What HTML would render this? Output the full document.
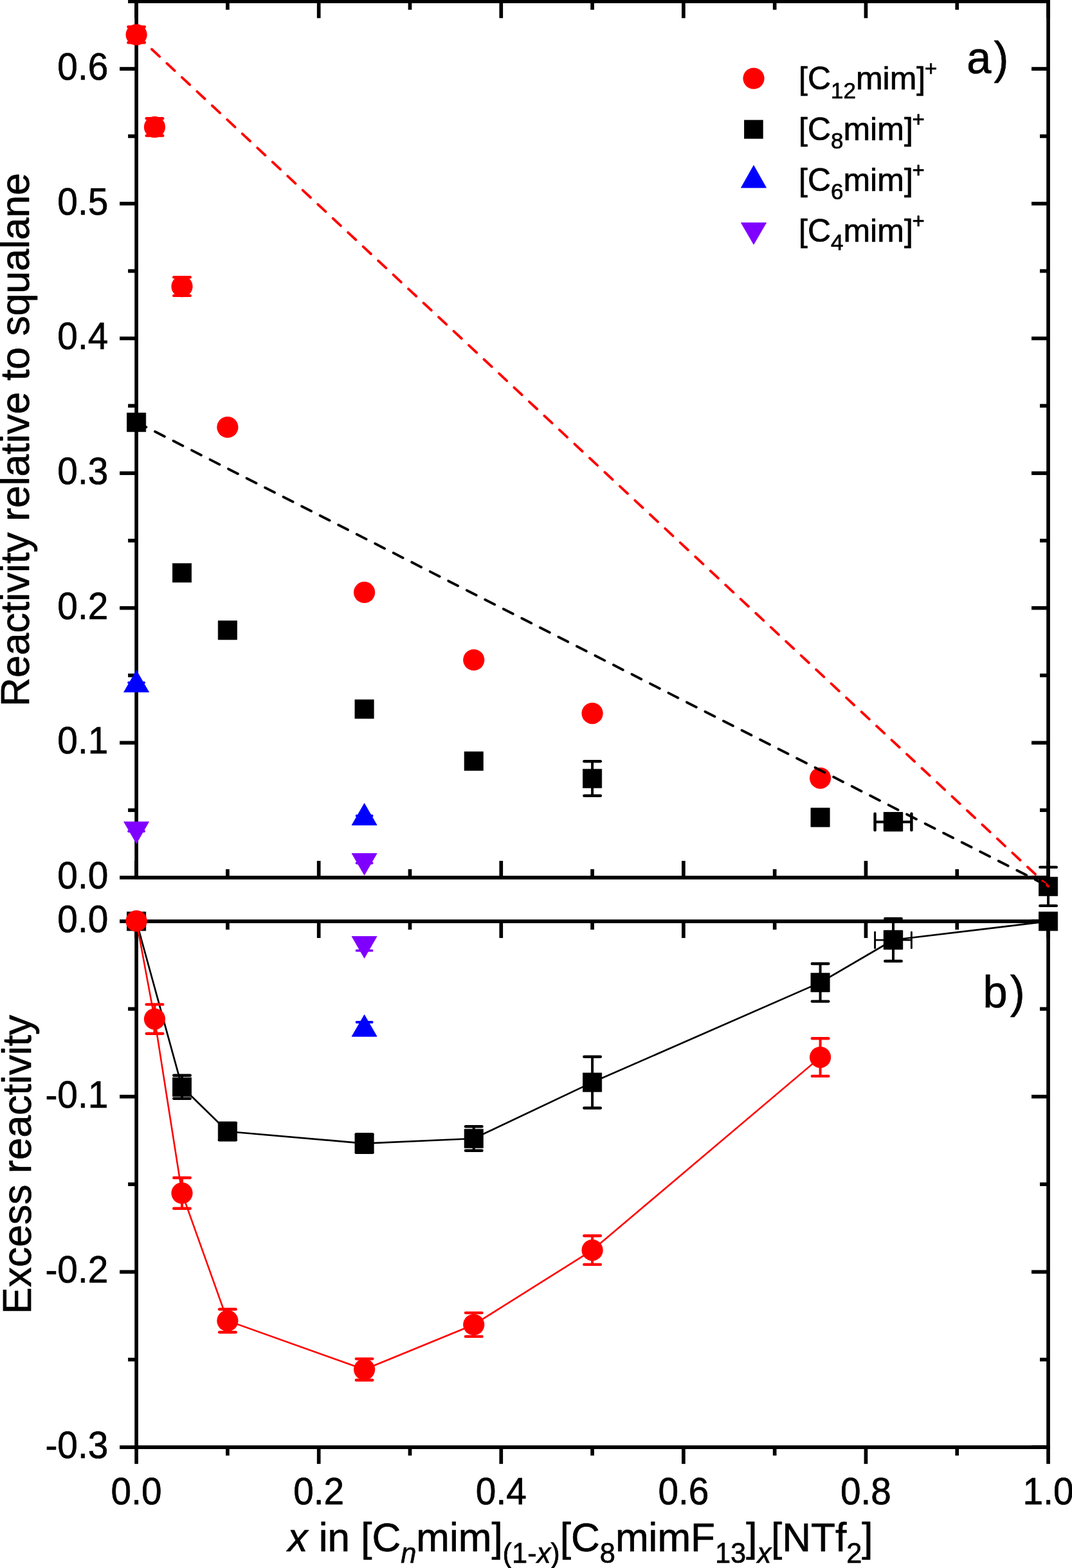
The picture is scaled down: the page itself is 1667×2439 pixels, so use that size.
<!DOCTYPE html>
<html><head><meta charset="utf-8"><title>Reactivity plot</title>
<style>html,body{margin:0;padding:0;background:#fff;overflow:hidden;}svg{display:block;}
text{font-family:'Liberation Sans', Arial, Helvetica, sans-serif;fill:#000;stroke:#000;stroke-width:0.7px;stroke-linejoin:round;}</style></head>
<body><svg width="1667" height="2439" viewBox="0 0 1667 2439">
<rect width="1667" height="2439" fill="#fff"/>
<line x1="212.10" y1="-0.64" x2="212.10" y2="1367.90" stroke="#000000" stroke-width="5.7" stroke-linecap="butt"/>
<line x1="1630.05" y1="-0.64" x2="1630.05" y2="1367.90" stroke="#000000" stroke-width="5.7" stroke-linecap="butt"/>
<line x1="209.25" y1="2.21" x2="1632.90" y2="2.21" stroke="#000000" stroke-width="5.7" stroke-linecap="butt"/>
<line x1="209.25" y1="1365.05" x2="1632.90" y2="1365.05" stroke="#000000" stroke-width="5.7" stroke-linecap="butt"/>
<line x1="186.10" y1="1365.05" x2="212.10" y2="1365.05" stroke="#000000" stroke-width="5.7" stroke-linecap="butt"/>
<line x1="1604.05" y1="1365.05" x2="1630.05" y2="1365.05" stroke="#000000" stroke-width="5.7" stroke-linecap="butt"/>
<line x1="199.10" y1="1260.22" x2="212.10" y2="1260.22" stroke="#000000" stroke-width="5.7" stroke-linecap="butt"/>
<line x1="1617.05" y1="1260.22" x2="1630.05" y2="1260.22" stroke="#000000" stroke-width="5.7" stroke-linecap="butt"/>
<line x1="186.10" y1="1155.38" x2="212.10" y2="1155.38" stroke="#000000" stroke-width="5.7" stroke-linecap="butt"/>
<line x1="1604.05" y1="1155.38" x2="1630.05" y2="1155.38" stroke="#000000" stroke-width="5.7" stroke-linecap="butt"/>
<line x1="199.10" y1="1050.55" x2="212.10" y2="1050.55" stroke="#000000" stroke-width="5.7" stroke-linecap="butt"/>
<line x1="1617.05" y1="1050.55" x2="1630.05" y2="1050.55" stroke="#000000" stroke-width="5.7" stroke-linecap="butt"/>
<line x1="186.10" y1="945.72" x2="212.10" y2="945.72" stroke="#000000" stroke-width="5.7" stroke-linecap="butt"/>
<line x1="1604.05" y1="945.72" x2="1630.05" y2="945.72" stroke="#000000" stroke-width="5.7" stroke-linecap="butt"/>
<line x1="199.10" y1="840.88" x2="212.10" y2="840.88" stroke="#000000" stroke-width="5.7" stroke-linecap="butt"/>
<line x1="1617.05" y1="840.88" x2="1630.05" y2="840.88" stroke="#000000" stroke-width="5.7" stroke-linecap="butt"/>
<line x1="186.10" y1="736.05" x2="212.10" y2="736.05" stroke="#000000" stroke-width="5.7" stroke-linecap="butt"/>
<line x1="1604.05" y1="736.05" x2="1630.05" y2="736.05" stroke="#000000" stroke-width="5.7" stroke-linecap="butt"/>
<line x1="199.10" y1="631.22" x2="212.10" y2="631.22" stroke="#000000" stroke-width="5.7" stroke-linecap="butt"/>
<line x1="1617.05" y1="631.22" x2="1630.05" y2="631.22" stroke="#000000" stroke-width="5.7" stroke-linecap="butt"/>
<line x1="186.10" y1="526.38" x2="212.10" y2="526.38" stroke="#000000" stroke-width="5.7" stroke-linecap="butt"/>
<line x1="1604.05" y1="526.38" x2="1630.05" y2="526.38" stroke="#000000" stroke-width="5.7" stroke-linecap="butt"/>
<line x1="199.10" y1="421.55" x2="212.10" y2="421.55" stroke="#000000" stroke-width="5.7" stroke-linecap="butt"/>
<line x1="1617.05" y1="421.55" x2="1630.05" y2="421.55" stroke="#000000" stroke-width="5.7" stroke-linecap="butt"/>
<line x1="186.10" y1="316.71" x2="212.10" y2="316.71" stroke="#000000" stroke-width="5.7" stroke-linecap="butt"/>
<line x1="1604.05" y1="316.71" x2="1630.05" y2="316.71" stroke="#000000" stroke-width="5.7" stroke-linecap="butt"/>
<line x1="199.10" y1="211.88" x2="212.10" y2="211.88" stroke="#000000" stroke-width="5.7" stroke-linecap="butt"/>
<line x1="1617.05" y1="211.88" x2="1630.05" y2="211.88" stroke="#000000" stroke-width="5.7" stroke-linecap="butt"/>
<line x1="186.10" y1="107.05" x2="212.10" y2="107.05" stroke="#000000" stroke-width="5.7" stroke-linecap="butt"/>
<line x1="1604.05" y1="107.05" x2="1630.05" y2="107.05" stroke="#000000" stroke-width="5.7" stroke-linecap="butt"/>
<line x1="199.10" y1="2.21" x2="212.10" y2="2.21" stroke="#000000" stroke-width="5.7" stroke-linecap="butt"/>
<line x1="1617.05" y1="2.21" x2="1630.05" y2="2.21" stroke="#000000" stroke-width="5.7" stroke-linecap="butt"/>
<line x1="212.10" y1="2.21" x2="212.10" y2="28.21" stroke="#000000" stroke-width="5.7" stroke-linecap="butt"/>
<line x1="212.10" y1="1365.05" x2="212.10" y2="1339.05" stroke="#000000" stroke-width="5.7" stroke-linecap="butt"/>
<line x1="353.89" y1="2.21" x2="353.89" y2="15.21" stroke="#000000" stroke-width="5.7" stroke-linecap="butt"/>
<line x1="353.89" y1="1365.05" x2="353.89" y2="1352.05" stroke="#000000" stroke-width="5.7" stroke-linecap="butt"/>
<line x1="495.69" y1="2.21" x2="495.69" y2="28.21" stroke="#000000" stroke-width="5.7" stroke-linecap="butt"/>
<line x1="495.69" y1="1365.05" x2="495.69" y2="1339.05" stroke="#000000" stroke-width="5.7" stroke-linecap="butt"/>
<line x1="637.49" y1="2.21" x2="637.49" y2="15.21" stroke="#000000" stroke-width="5.7" stroke-linecap="butt"/>
<line x1="637.49" y1="1365.05" x2="637.49" y2="1352.05" stroke="#000000" stroke-width="5.7" stroke-linecap="butt"/>
<line x1="779.28" y1="2.21" x2="779.28" y2="28.21" stroke="#000000" stroke-width="5.7" stroke-linecap="butt"/>
<line x1="779.28" y1="1365.05" x2="779.28" y2="1339.05" stroke="#000000" stroke-width="5.7" stroke-linecap="butt"/>
<line x1="921.08" y1="2.21" x2="921.08" y2="15.21" stroke="#000000" stroke-width="5.7" stroke-linecap="butt"/>
<line x1="921.08" y1="1365.05" x2="921.08" y2="1352.05" stroke="#000000" stroke-width="5.7" stroke-linecap="butt"/>
<line x1="1062.87" y1="2.21" x2="1062.87" y2="28.21" stroke="#000000" stroke-width="5.7" stroke-linecap="butt"/>
<line x1="1062.87" y1="1365.05" x2="1062.87" y2="1339.05" stroke="#000000" stroke-width="5.7" stroke-linecap="butt"/>
<line x1="1204.67" y1="2.21" x2="1204.67" y2="15.21" stroke="#000000" stroke-width="5.7" stroke-linecap="butt"/>
<line x1="1204.67" y1="1365.05" x2="1204.67" y2="1352.05" stroke="#000000" stroke-width="5.7" stroke-linecap="butt"/>
<line x1="1346.46" y1="2.21" x2="1346.46" y2="28.21" stroke="#000000" stroke-width="5.7" stroke-linecap="butt"/>
<line x1="1346.46" y1="1365.05" x2="1346.46" y2="1339.05" stroke="#000000" stroke-width="5.7" stroke-linecap="butt"/>
<line x1="1488.25" y1="2.21" x2="1488.25" y2="15.21" stroke="#000000" stroke-width="5.7" stroke-linecap="butt"/>
<line x1="1488.25" y1="1365.05" x2="1488.25" y2="1352.05" stroke="#000000" stroke-width="5.7" stroke-linecap="butt"/>
<line x1="1630.05" y1="2.21" x2="1630.05" y2="28.21" stroke="#000000" stroke-width="5.7" stroke-linecap="butt"/>
<line x1="1630.05" y1="1365.05" x2="1630.05" y2="1339.05" stroke="#000000" stroke-width="5.7" stroke-linecap="butt"/>
<line x1="212.10" y1="1430.20" x2="212.10" y2="2253.97" stroke="#000000" stroke-width="5.7" stroke-linecap="butt"/>
<line x1="1630.05" y1="1430.20" x2="1630.05" y2="2253.97" stroke="#000000" stroke-width="5.7" stroke-linecap="butt"/>
<line x1="209.25" y1="1433.05" x2="1632.90" y2="1433.05" stroke="#000000" stroke-width="5.7" stroke-linecap="butt"/>
<line x1="209.25" y1="2251.12" x2="1632.90" y2="2251.12" stroke="#000000" stroke-width="5.7" stroke-linecap="butt"/>
<line x1="186.10" y1="1433.05" x2="212.10" y2="1433.05" stroke="#000000" stroke-width="5.7" stroke-linecap="butt"/>
<line x1="1604.05" y1="1433.05" x2="1630.05" y2="1433.05" stroke="#000000" stroke-width="5.7" stroke-linecap="butt"/>
<line x1="199.10" y1="1569.39" x2="212.10" y2="1569.39" stroke="#000000" stroke-width="5.7" stroke-linecap="butt"/>
<line x1="1617.05" y1="1569.39" x2="1630.05" y2="1569.39" stroke="#000000" stroke-width="5.7" stroke-linecap="butt"/>
<line x1="186.10" y1="1705.74" x2="212.10" y2="1705.74" stroke="#000000" stroke-width="5.7" stroke-linecap="butt"/>
<line x1="1604.05" y1="1705.74" x2="1630.05" y2="1705.74" stroke="#000000" stroke-width="5.7" stroke-linecap="butt"/>
<line x1="199.10" y1="1842.09" x2="212.10" y2="1842.09" stroke="#000000" stroke-width="5.7" stroke-linecap="butt"/>
<line x1="1617.05" y1="1842.09" x2="1630.05" y2="1842.09" stroke="#000000" stroke-width="5.7" stroke-linecap="butt"/>
<line x1="186.10" y1="1978.43" x2="212.10" y2="1978.43" stroke="#000000" stroke-width="5.7" stroke-linecap="butt"/>
<line x1="1604.05" y1="1978.43" x2="1630.05" y2="1978.43" stroke="#000000" stroke-width="5.7" stroke-linecap="butt"/>
<line x1="199.10" y1="2114.78" x2="212.10" y2="2114.78" stroke="#000000" stroke-width="5.7" stroke-linecap="butt"/>
<line x1="1617.05" y1="2114.78" x2="1630.05" y2="2114.78" stroke="#000000" stroke-width="5.7" stroke-linecap="butt"/>
<line x1="186.10" y1="2251.12" x2="212.10" y2="2251.12" stroke="#000000" stroke-width="5.7" stroke-linecap="butt"/>
<line x1="1604.05" y1="2251.12" x2="1630.05" y2="2251.12" stroke="#000000" stroke-width="5.7" stroke-linecap="butt"/>
<line x1="212.10" y1="1433.05" x2="212.10" y2="1459.05" stroke="#000000" stroke-width="5.7" stroke-linecap="butt"/>
<line x1="212.10" y1="2251.12" x2="212.10" y2="2277.12" stroke="#000000" stroke-width="5.7" stroke-linecap="butt"/>
<line x1="353.89" y1="1433.05" x2="353.89" y2="1446.05" stroke="#000000" stroke-width="5.7" stroke-linecap="butt"/>
<line x1="353.89" y1="2251.12" x2="353.89" y2="2264.12" stroke="#000000" stroke-width="5.7" stroke-linecap="butt"/>
<line x1="495.69" y1="1433.05" x2="495.69" y2="1459.05" stroke="#000000" stroke-width="5.7" stroke-linecap="butt"/>
<line x1="495.69" y1="2251.12" x2="495.69" y2="2277.12" stroke="#000000" stroke-width="5.7" stroke-linecap="butt"/>
<line x1="637.49" y1="1433.05" x2="637.49" y2="1446.05" stroke="#000000" stroke-width="5.7" stroke-linecap="butt"/>
<line x1="637.49" y1="2251.12" x2="637.49" y2="2264.12" stroke="#000000" stroke-width="5.7" stroke-linecap="butt"/>
<line x1="779.28" y1="1433.05" x2="779.28" y2="1459.05" stroke="#000000" stroke-width="5.7" stroke-linecap="butt"/>
<line x1="779.28" y1="2251.12" x2="779.28" y2="2277.12" stroke="#000000" stroke-width="5.7" stroke-linecap="butt"/>
<line x1="921.08" y1="1433.05" x2="921.08" y2="1446.05" stroke="#000000" stroke-width="5.7" stroke-linecap="butt"/>
<line x1="921.08" y1="2251.12" x2="921.08" y2="2264.12" stroke="#000000" stroke-width="5.7" stroke-linecap="butt"/>
<line x1="1062.87" y1="1433.05" x2="1062.87" y2="1459.05" stroke="#000000" stroke-width="5.7" stroke-linecap="butt"/>
<line x1="1062.87" y1="2251.12" x2="1062.87" y2="2277.12" stroke="#000000" stroke-width="5.7" stroke-linecap="butt"/>
<line x1="1204.67" y1="1433.05" x2="1204.67" y2="1446.05" stroke="#000000" stroke-width="5.7" stroke-linecap="butt"/>
<line x1="1204.67" y1="2251.12" x2="1204.67" y2="2264.12" stroke="#000000" stroke-width="5.7" stroke-linecap="butt"/>
<line x1="1346.46" y1="1433.05" x2="1346.46" y2="1459.05" stroke="#000000" stroke-width="5.7" stroke-linecap="butt"/>
<line x1="1346.46" y1="2251.12" x2="1346.46" y2="2277.12" stroke="#000000" stroke-width="5.7" stroke-linecap="butt"/>
<line x1="1488.25" y1="1433.05" x2="1488.25" y2="1446.05" stroke="#000000" stroke-width="5.7" stroke-linecap="butt"/>
<line x1="1488.25" y1="2251.12" x2="1488.25" y2="2264.12" stroke="#000000" stroke-width="5.7" stroke-linecap="butt"/>
<line x1="1630.05" y1="1433.05" x2="1630.05" y2="1459.05" stroke="#000000" stroke-width="5.7" stroke-linecap="butt"/>
<line x1="1630.05" y1="2251.12" x2="1630.05" y2="2277.12" stroke="#000000" stroke-width="5.7" stroke-linecap="butt"/>
<text transform="translate(168.30,1381.95) scale(1,1.035)" font-size="56.8" text-anchor="end">0.0</text>
<text transform="translate(168.30,1172.28) scale(1,1.035)" font-size="56.8" text-anchor="end">0.1</text>
<text transform="translate(168.30,962.62) scale(1,1.035)" font-size="56.8" text-anchor="end">0.2</text>
<text transform="translate(168.30,752.95) scale(1,1.035)" font-size="56.8" text-anchor="end">0.3</text>
<text transform="translate(168.30,543.28) scale(1,1.035)" font-size="56.8" text-anchor="end">0.4</text>
<text transform="translate(168.30,333.61) scale(1,1.035)" font-size="56.8" text-anchor="end">0.5</text>
<text transform="translate(168.30,123.95) scale(1,1.035)" font-size="56.8" text-anchor="end">0.6</text>
<text transform="translate(168.30,1449.95) scale(1,1.035)" font-size="56.8" text-anchor="end">0.0</text>
<text transform="translate(168.30,1722.64) scale(1,1.035)" font-size="56.8" text-anchor="end">-0.1</text>
<text transform="translate(168.30,1995.33) scale(1,1.035)" font-size="56.8" text-anchor="end">-0.2</text>
<text transform="translate(168.30,2268.02) scale(1,1.035)" font-size="56.8" text-anchor="end">-0.3</text>
<text transform="translate(212.10,2339.80) scale(1,1.035)" font-size="56.8" text-anchor="middle">0.0</text>
<text transform="translate(495.69,2339.80) scale(1,1.035)" font-size="56.8" text-anchor="middle">0.2</text>
<text transform="translate(779.28,2339.80) scale(1,1.035)" font-size="56.8" text-anchor="middle">0.4</text>
<text transform="translate(1062.87,2339.80) scale(1,1.035)" font-size="56.8" text-anchor="middle">0.6</text>
<text transform="translate(1346.46,2339.80) scale(1,1.035)" font-size="56.8" text-anchor="middle">0.8</text>
<text transform="translate(1630.05,2339.80) scale(1,1.035)" font-size="56.8" text-anchor="middle">1.0</text>
<text transform="translate(45.40,1099.03) rotate(-90) scale(1,1.01)" font-size="62.5" text-anchor="start">Reactivity relative to squalane</text>
<text transform="translate(48.10,2043.92) rotate(-90) scale(1,1.01)" font-size="62.5" text-anchor="start">Excess reactivity</text>
<text transform="translate(447.50,2412.80) scale(1,1.02)" font-size="62.0" text-anchor="start"><tspan font-style="italic">x</tspan> in [C<tspan font-size="43.4" dy="18" font-style="italic">n</tspan><tspan dy="-18">mim]</tspan><tspan font-size="43.4" dy="18">(1-<tspan font-style="italic">x</tspan>)</tspan><tspan dy="-18">[C</tspan><tspan font-size="43.4" dy="18">8</tspan><tspan dy="-18">mimF</tspan><tspan font-size="43.4" dy="18">13</tspan><tspan dy="-18">]</tspan><tspan font-size="43.4" dy="18" font-style="italic">x</tspan><tspan dy="-18">[NTf</tspan><tspan font-size="43.4" dy="18">2</tspan><tspan dy="-18">]</tspan></text>
<line x1="212.10" y1="41.75" x2="212.10" y2="66.25" stroke="#ff0000" stroke-width="4.0" stroke-linecap="butt"/>
<line x1="199.35" y1="41.75" x2="224.85" y2="41.75" stroke="#ff0000" stroke-width="4.4" stroke-linecap="round"/>
<line x1="199.35" y1="66.25" x2="224.85" y2="66.25" stroke="#ff0000" stroke-width="4.4" stroke-linecap="round"/>
<circle cx="212.10" cy="54.00" r="16.6" fill="#ff0000"/>
<line x1="240.46" y1="184.25" x2="240.46" y2="210.95" stroke="#ff0000" stroke-width="4.0" stroke-linecap="butt"/>
<line x1="227.71" y1="184.25" x2="253.21" y2="184.25" stroke="#ff0000" stroke-width="4.4" stroke-linecap="round"/>
<line x1="227.71" y1="210.95" x2="253.21" y2="210.95" stroke="#ff0000" stroke-width="4.4" stroke-linecap="round"/>
<circle cx="240.46" cy="197.60" r="16.6" fill="#ff0000"/>
<line x1="283.00" y1="431.30" x2="283.00" y2="459.90" stroke="#ff0000" stroke-width="4.0" stroke-linecap="butt"/>
<line x1="270.25" y1="431.30" x2="295.75" y2="431.30" stroke="#ff0000" stroke-width="4.4" stroke-linecap="round"/>
<line x1="270.25" y1="459.90" x2="295.75" y2="459.90" stroke="#ff0000" stroke-width="4.4" stroke-linecap="round"/>
<circle cx="283.00" cy="445.60" r="16.6" fill="#ff0000"/>
<circle cx="353.89" cy="664.50" r="16.6" fill="#ff0000"/>
<circle cx="566.59" cy="921.40" r="16.6" fill="#ff0000"/>
<circle cx="736.74" cy="1026.50" r="16.6" fill="#ff0000"/>
<circle cx="921.08" cy="1109.60" r="16.6" fill="#ff0000"/>
<circle cx="1275.56" cy="1210.30" r="16.6" fill="#ff0000"/>
<rect x="197.40" y="642.20" width="29.4" height="29.4" fill="#000000" stroke="#000000" stroke-width="0.6" stroke-linejoin="round"/>
<rect x="268.30" y="876.40" width="29.4" height="29.4" fill="#000000" stroke="#000000" stroke-width="0.6" stroke-linejoin="round"/>
<rect x="339.19" y="965.60" width="29.4" height="29.4" fill="#000000" stroke="#000000" stroke-width="0.6" stroke-linejoin="round"/>
<rect x="551.89" y="1088.30" width="29.4" height="29.4" fill="#000000" stroke="#000000" stroke-width="0.6" stroke-linejoin="round"/>
<rect x="722.04" y="1169.20" width="29.4" height="29.4" fill="#000000" stroke="#000000" stroke-width="0.6" stroke-linejoin="round"/>
<line x1="921.08" y1="1184.20" x2="921.08" y2="1237.80" stroke="#000000" stroke-width="4.0" stroke-linecap="butt"/>
<line x1="908.33" y1="1184.20" x2="933.83" y2="1184.20" stroke="#000000" stroke-width="4.4" stroke-linecap="round"/>
<line x1="908.33" y1="1237.80" x2="933.83" y2="1237.80" stroke="#000000" stroke-width="4.4" stroke-linecap="round"/>
<rect x="906.38" y="1196.30" width="29.4" height="29.4" fill="#000000" stroke="#000000" stroke-width="0.6" stroke-linejoin="round"/>
<rect x="1260.86" y="1256.80" width="29.4" height="29.4" fill="#000000" stroke="#000000" stroke-width="0.6" stroke-linejoin="round"/>
<rect x="1374.30" y="1263.50" width="29.4" height="29.4" fill="#000000" stroke="#000000" stroke-width="0.6" stroke-linejoin="round"/>
<line x1="1630.05" y1="1348.90" x2="1630.05" y2="1408.90" stroke="#000000" stroke-width="4.0" stroke-linecap="butt"/>
<line x1="1617.30" y1="1348.90" x2="1642.80" y2="1348.90" stroke="#000000" stroke-width="4.4" stroke-linecap="round"/>
<line x1="1617.30" y1="1408.90" x2="1642.80" y2="1408.90" stroke="#000000" stroke-width="4.4" stroke-linecap="round"/>
<rect x="1615.35" y="1364.20" width="29.4" height="29.4" fill="#000000" stroke="#000000" stroke-width="0.6" stroke-linejoin="round"/>
<line x1="1360.60" y1="1278.50" x2="1417.40" y2="1278.50" stroke="#000000" stroke-width="4.0" stroke-linecap="butt"/>
<line x1="1360.60" y1="1265.75" x2="1360.60" y2="1291.25" stroke="#000000" stroke-width="4.5" stroke-linecap="round"/>
<line x1="1417.40" y1="1265.75" x2="1417.40" y2="1291.25" stroke="#000000" stroke-width="4.5" stroke-linecap="round"/>
<rect x="1374.30" y="1263.50" width="29.4" height="29.4" fill="#000000" stroke="#000000" stroke-width="0.6" stroke-linejoin="round"/>
<line x1="200.10" y1="1061.80" x2="224.10" y2="1061.80" stroke="#0000ff" stroke-width="3.8" stroke-linecap="round"/>
<polygon points="212.10,1042.80 231.60,1076.60 192.60,1076.60" fill="#0000ff" stroke="#0000ff" stroke-width="0.8" stroke-linejoin="round"/>
<line x1="554.59" y1="1269.00" x2="578.59" y2="1269.00" stroke="#0000ff" stroke-width="3.8" stroke-linecap="round"/>
<polygon points="566.59,1249.60 586.09,1283.40 547.09,1283.40" fill="#0000ff" stroke="#0000ff" stroke-width="0.8" stroke-linejoin="round"/>
<line x1="200.10" y1="1293.00" x2="224.10" y2="1293.00" stroke="#8000ff" stroke-width="3.8" stroke-linecap="round"/>
<polygon points="192.60,1278.20 231.60,1278.20 212.10,1312.00" fill="#8000ff" stroke="#8000ff" stroke-width="0.8" stroke-linejoin="round"/>
<line x1="554.59" y1="1342.50" x2="578.59" y2="1342.50" stroke="#8000ff" stroke-width="3.8" stroke-linecap="round"/>
<polygon points="547.09,1327.50 586.09,1327.50 566.59,1361.30" fill="#8000ff" stroke="#8000ff" stroke-width="0.8" stroke-linejoin="round"/>
<line x1="212.10" y1="54.30" x2="1630.05" y2="1378.60" stroke="#ff0000" stroke-width="3.9" stroke-linecap="round" stroke-dasharray="16.7 15.43" stroke-dashoffset="-0.45"/>
<line x1="212.10" y1="656.60" x2="1630.05" y2="1378.60" stroke="#000000" stroke-width="3.9" stroke-linecap="round" stroke-dasharray="16.7 15.3" stroke-dashoffset="-0.45"/>
<polyline points="212.10,1433.05 283.00,1690.80 353.89,1760.00 566.59,1778.60 736.74,1771.00 921.08,1683.60 1275.56,1528.30 1389.00,1462.00 1630.05,1433.05" fill="none" stroke="#000000" stroke-width="2.7" stroke-linejoin="round"/>
<rect x="197.40" y="1418.35" width="29.4" height="29.4" fill="#000000" stroke="#000000" stroke-width="0.6" stroke-linejoin="round"/>
<line x1="283.00" y1="1672.80" x2="283.00" y2="1708.80" stroke="#000000" stroke-width="4.0" stroke-linecap="butt"/>
<line x1="270.25" y1="1672.80" x2="295.75" y2="1672.80" stroke="#000000" stroke-width="4.4" stroke-linecap="round"/>
<line x1="270.25" y1="1708.80" x2="295.75" y2="1708.80" stroke="#000000" stroke-width="4.4" stroke-linecap="round"/>
<rect x="268.30" y="1676.10" width="29.4" height="29.4" fill="#000000" stroke="#000000" stroke-width="0.6" stroke-linejoin="round"/>
<line x1="353.89" y1="1746.70" x2="353.89" y2="1773.30" stroke="#000000" stroke-width="4.0" stroke-linecap="butt"/>
<line x1="341.14" y1="1746.70" x2="366.64" y2="1746.70" stroke="#000000" stroke-width="4.4" stroke-linecap="round"/>
<line x1="341.14" y1="1773.30" x2="366.64" y2="1773.30" stroke="#000000" stroke-width="4.4" stroke-linecap="round"/>
<rect x="339.19" y="1745.30" width="29.4" height="29.4" fill="#000000" stroke="#000000" stroke-width="0.6" stroke-linejoin="round"/>
<line x1="566.59" y1="1764.30" x2="566.59" y2="1792.90" stroke="#000000" stroke-width="4.0" stroke-linecap="butt"/>
<line x1="553.84" y1="1764.30" x2="579.34" y2="1764.30" stroke="#000000" stroke-width="4.4" stroke-linecap="round"/>
<line x1="553.84" y1="1792.90" x2="579.34" y2="1792.90" stroke="#000000" stroke-width="4.4" stroke-linecap="round"/>
<rect x="551.89" y="1763.90" width="29.4" height="29.4" fill="#000000" stroke="#000000" stroke-width="0.6" stroke-linejoin="round"/>
<line x1="736.74" y1="1752.30" x2="736.74" y2="1789.70" stroke="#000000" stroke-width="4.0" stroke-linecap="butt"/>
<line x1="723.99" y1="1752.30" x2="749.49" y2="1752.30" stroke="#000000" stroke-width="4.4" stroke-linecap="round"/>
<line x1="723.99" y1="1789.70" x2="749.49" y2="1789.70" stroke="#000000" stroke-width="4.4" stroke-linecap="round"/>
<rect x="722.04" y="1756.30" width="29.4" height="29.4" fill="#000000" stroke="#000000" stroke-width="0.6" stroke-linejoin="round"/>
<line x1="921.08" y1="1643.70" x2="921.08" y2="1723.50" stroke="#000000" stroke-width="4.0" stroke-linecap="butt"/>
<line x1="908.33" y1="1643.70" x2="933.83" y2="1643.70" stroke="#000000" stroke-width="4.4" stroke-linecap="round"/>
<line x1="908.33" y1="1723.50" x2="933.83" y2="1723.50" stroke="#000000" stroke-width="4.4" stroke-linecap="round"/>
<rect x="906.38" y="1668.90" width="29.4" height="29.4" fill="#000000" stroke="#000000" stroke-width="0.6" stroke-linejoin="round"/>
<line x1="1275.56" y1="1499.00" x2="1275.56" y2="1557.60" stroke="#000000" stroke-width="4.0" stroke-linecap="butt"/>
<line x1="1262.81" y1="1499.00" x2="1288.31" y2="1499.00" stroke="#000000" stroke-width="4.4" stroke-linecap="round"/>
<line x1="1262.81" y1="1557.60" x2="1288.31" y2="1557.60" stroke="#000000" stroke-width="4.4" stroke-linecap="round"/>
<rect x="1260.86" y="1513.60" width="29.4" height="29.4" fill="#000000" stroke="#000000" stroke-width="0.6" stroke-linejoin="round"/>
<line x1="1389.00" y1="1429.00" x2="1389.00" y2="1495.00" stroke="#000000" stroke-width="4.0" stroke-linecap="butt"/>
<line x1="1376.25" y1="1429.00" x2="1401.75" y2="1429.00" stroke="#000000" stroke-width="4.4" stroke-linecap="round"/>
<line x1="1376.25" y1="1495.00" x2="1401.75" y2="1495.00" stroke="#000000" stroke-width="4.4" stroke-linecap="round"/>
<rect x="1374.30" y="1447.30" width="29.4" height="29.4" fill="#000000" stroke="#000000" stroke-width="0.6" stroke-linejoin="round"/>
<rect x="1615.35" y="1418.35" width="29.4" height="29.4" fill="#000000" stroke="#000000" stroke-width="0.6" stroke-linejoin="round"/>
<line x1="1360.60" y1="1462.30" x2="1417.40" y2="1462.30" stroke="#000000" stroke-width="2.6" stroke-linecap="butt"/>
<line x1="1360.60" y1="1449.90" x2="1360.60" y2="1474.70" stroke="#000000" stroke-width="2.9" stroke-linecap="round"/>
<line x1="1417.40" y1="1449.90" x2="1417.40" y2="1474.70" stroke="#000000" stroke-width="2.9" stroke-linecap="round"/>
<rect x="1374.30" y="1447.30" width="29.4" height="29.4" fill="#000000" stroke="#000000" stroke-width="0.6" stroke-linejoin="round"/>
<polyline points="212.10,1432.60 240.46,1585.10 283.00,1855.90 353.89,2054.40 566.59,2130.20 736.74,2060.50 921.08,1944.60 1275.56,1644.60" fill="none" stroke="#ff0000" stroke-width="2.6" stroke-linejoin="round"/>
<circle cx="212.10" cy="1432.60" r="16.6" fill="#ff0000"/>
<line x1="240.46" y1="1562.40" x2="240.46" y2="1607.80" stroke="#ff0000" stroke-width="4.0" stroke-linecap="butt"/>
<line x1="227.71" y1="1562.40" x2="253.21" y2="1562.40" stroke="#ff0000" stroke-width="4.4" stroke-linecap="round"/>
<line x1="227.71" y1="1607.80" x2="253.21" y2="1607.80" stroke="#ff0000" stroke-width="4.4" stroke-linecap="round"/>
<circle cx="240.46" cy="1585.10" r="16.6" fill="#ff0000"/>
<line x1="283.00" y1="1832.00" x2="283.00" y2="1879.80" stroke="#ff0000" stroke-width="4.0" stroke-linecap="butt"/>
<line x1="270.25" y1="1832.00" x2="295.75" y2="1832.00" stroke="#ff0000" stroke-width="4.4" stroke-linecap="round"/>
<line x1="270.25" y1="1879.80" x2="295.75" y2="1879.80" stroke="#ff0000" stroke-width="4.4" stroke-linecap="round"/>
<circle cx="283.00" cy="1855.90" r="16.6" fill="#ff0000"/>
<line x1="353.89" y1="2036.50" x2="353.89" y2="2072.30" stroke="#ff0000" stroke-width="4.0" stroke-linecap="butt"/>
<line x1="341.14" y1="2036.50" x2="366.64" y2="2036.50" stroke="#ff0000" stroke-width="4.4" stroke-linecap="round"/>
<line x1="341.14" y1="2072.30" x2="366.64" y2="2072.30" stroke="#ff0000" stroke-width="4.4" stroke-linecap="round"/>
<circle cx="353.89" cy="2054.40" r="16.6" fill="#ff0000"/>
<line x1="566.59" y1="2113.60" x2="566.59" y2="2146.80" stroke="#ff0000" stroke-width="4.0" stroke-linecap="butt"/>
<line x1="553.84" y1="2113.60" x2="579.34" y2="2113.60" stroke="#ff0000" stroke-width="4.4" stroke-linecap="round"/>
<line x1="553.84" y1="2146.80" x2="579.34" y2="2146.80" stroke="#ff0000" stroke-width="4.4" stroke-linecap="round"/>
<circle cx="566.59" cy="2130.20" r="16.6" fill="#ff0000"/>
<line x1="736.74" y1="2042.10" x2="736.74" y2="2078.90" stroke="#ff0000" stroke-width="4.0" stroke-linecap="butt"/>
<line x1="723.99" y1="2042.10" x2="749.49" y2="2042.10" stroke="#ff0000" stroke-width="4.4" stroke-linecap="round"/>
<line x1="723.99" y1="2078.90" x2="749.49" y2="2078.90" stroke="#ff0000" stroke-width="4.4" stroke-linecap="round"/>
<circle cx="736.74" cy="2060.50" r="16.6" fill="#ff0000"/>
<line x1="921.08" y1="1922.30" x2="921.08" y2="1966.90" stroke="#ff0000" stroke-width="4.0" stroke-linecap="butt"/>
<line x1="908.33" y1="1922.30" x2="933.83" y2="1922.30" stroke="#ff0000" stroke-width="4.4" stroke-linecap="round"/>
<line x1="908.33" y1="1966.90" x2="933.83" y2="1966.90" stroke="#ff0000" stroke-width="4.4" stroke-linecap="round"/>
<circle cx="921.08" cy="1944.60" r="16.6" fill="#ff0000"/>
<line x1="1275.56" y1="1615.30" x2="1275.56" y2="1673.90" stroke="#ff0000" stroke-width="4.0" stroke-linecap="butt"/>
<line x1="1262.81" y1="1615.30" x2="1288.31" y2="1615.30" stroke="#ff0000" stroke-width="4.4" stroke-linecap="round"/>
<line x1="1262.81" y1="1673.90" x2="1288.31" y2="1673.90" stroke="#ff0000" stroke-width="4.4" stroke-linecap="round"/>
<circle cx="1275.56" cy="1644.60" r="16.6" fill="#ff0000"/>
<line x1="554.59" y1="1590.00" x2="578.59" y2="1590.00" stroke="#0000ff" stroke-width="3.8" stroke-linecap="round"/>
<polygon points="566.59,1578.40 586.09,1612.20 547.09,1612.20" fill="#0000ff" stroke="#0000ff" stroke-width="0.8" stroke-linejoin="round"/>
<line x1="554.59" y1="1478.70" x2="578.59" y2="1478.70" stroke="#8000ff" stroke-width="3.8" stroke-linecap="round"/>
<polygon points="547.09,1456.60 586.09,1456.60 566.59,1490.40" fill="#8000ff" stroke="#8000ff" stroke-width="0.8" stroke-linejoin="round"/>
<circle cx="1172" cy="122" r="16.6" fill="#ff0000"/>
<rect x="1157.1" y="186.6" width="29.6" height="29.2" fill="#000000"/>
<polygon points="1172,257.3 1191.6,292.0 1152.4,292.0" fill="#0000ff" stroke="#0000ff" stroke-width="0.8" stroke-linejoin="round"/>
<polygon points="1152.4,346.5 1191.6,346.5 1172,380.2" fill="#8000ff" stroke="#8000ff" stroke-width="0.8" stroke-linejoin="round"/>
<text transform="translate(1242.00,139.10)" font-size="50.0" text-anchor="start">[C<tspan font-size="35.0" dy="13.4">12</tspan><tspan dy="-13.4">mim]</tspan><tspan font-size="33" dx="-1.3" dy="-21.1">+</tspan></text>
<text transform="translate(1242.00,218.00)" font-size="50.0" text-anchor="start">[C<tspan font-size="35.0" dy="13.4">8</tspan><tspan dy="-13.4">mim]</tspan><tspan font-size="33" dx="-1.3" dy="-21.1">+</tspan></text>
<text transform="translate(1242.00,296.90)" font-size="50.0" text-anchor="start">[C<tspan font-size="35.0" dy="13.4">6</tspan><tspan dy="-13.4">mim]</tspan><tspan font-size="33" dx="-1.3" dy="-21.1">+</tspan></text>
<text transform="translate(1242.00,375.80)" font-size="50.0" text-anchor="start">[C<tspan font-size="35.0" dy="13.4">4</tspan><tspan dy="-13.4">mim]</tspan><tspan font-size="33" dx="-1.3" dy="-21.1">+</tspan></text>
<text transform="translate(1503.30,114.20) scale(1,1.04)" font-size="68.5" text-anchor="start">a<tspan dx="4">)</tspan></text>
<text transform="translate(1528.60,1567.40) scale(1,1.04)" font-size="68.5" text-anchor="start">b<tspan dx="4">)</tspan></text>
</svg></body></html>
